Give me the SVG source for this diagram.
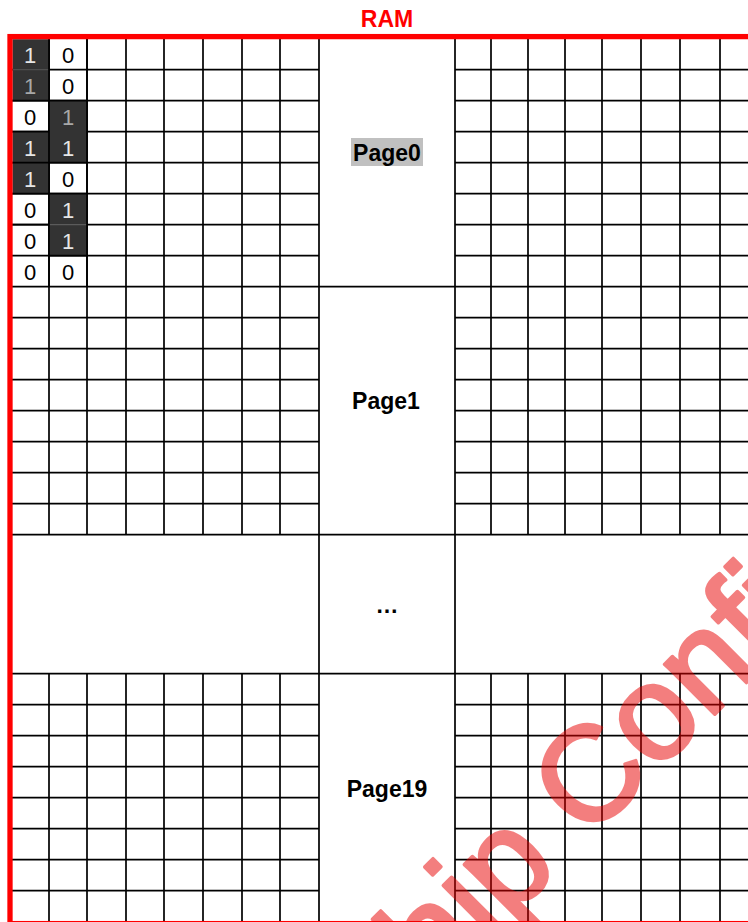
<svg xmlns="http://www.w3.org/2000/svg" width="748" height="922" viewBox="0 0 748 922">
  <style>
    .grid { fill: none; stroke: #000; stroke-width: 1.7; }
    .lbl { font-family: "Liberation Sans", Arial, sans-serif; font-weight: bold; font-size: 23px; fill: #000; text-anchor: middle; }
    .bit { font-family: "Liberation Sans", Arial, sans-serif; font-size: 22px; text-anchor: middle; }
    .b0 { fill: #000; }
    .b1 { fill: #e6e6e6; }
    .b1d { fill: #a8a8a8; }
    .dark { fill: #333333; }
  </style>
  <rect x="0" y="0" width="748" height="922" fill="#fff"/>

  <g id="title">
    <text x="387" y="26.5" class="lbl" style="fill:#ff0000">RAM</text>
  </g>

  <g id="connectors">
    <path class="grid" d="M319 39V922M455 39V922"/>
    <path class="grid" d="M12 286.7H748M12 534.7H748M12 673.7H748"/>
  </g>

  <g id="page0">
    <path class="grid" d="M49 39V286.7M87 39V286.7M126 39V286.7M164 39V286.7M203 39V286.7M242 39V286.7M280 39V286.7
      M491 39V286.7M528 39V286.7M565 39V286.7M602 39V286.7M641 39V286.7M680 39V286.7M720 39V286.7
      M12 69.7H319M12 100.7H319M12 131.7H319M12 162.7H319M12 193.7H319M12 224.7H319M12 255.7H319
      M455 69.7H748M455 100.7H748M455 131.7H748M455 162.7H748M455 193.7H748M455 224.7H748M455 255.7H748"/>
    <rect x="351" y="138" width="72" height="28" fill="#c0c0c0"/>
    <text x="387" y="160.5" class="lbl">Page0</text>
  </g>

  <g id="bits">
    <rect class="dark" x="12.5" y="39.2" width="36.5" height="61.5"/>
    <rect class="dark" x="12.5" y="131.7" width="36.5" height="62"/>
    <rect class="dark" x="49" y="100.7" width="38" height="62"/>
    <rect class="dark" x="49" y="193.7" width="38" height="62"/>
    <path d="M12.5 69.7H49" stroke="#555" stroke-width="1"/>
    <path d="M49 224.7H87" stroke="#666" stroke-width="1"/>
    <path class="grid" d="M49 39V286.7M87 39V286.7M12 100.7H87M12 131.7H49M12 193.7H87M49 162.7H87M49 255.7H87M12 162.7H49M12 224.7H49"/>
    <text x="30" y="62.5" class="bit b1">1</text><text x="68" y="62.5" class="bit b0">0</text>
    <text x="30" y="93.5" class="bit b1d">1</text><text x="68" y="93.5" class="bit b0">0</text>
    <text x="30" y="124.5" class="bit b0">0</text><text x="68" y="124.5" class="bit b1d">1</text>
    <text x="30" y="155.5" class="bit b1">1</text><text x="68" y="155.5" class="bit b1">1</text>
    <text x="30" y="186.5" class="bit b1">1</text><text x="68" y="186.5" class="bit b0">0</text>
    <text x="30" y="217.5" class="bit b0">0</text><text x="68" y="217.5" class="bit b1">1</text>
    <text x="30" y="248.5" class="bit b0">0</text><text x="68" y="248.5" class="bit b1">1</text>
    <text x="30" y="279.5" class="bit b0">0</text><text x="68" y="279.5" class="bit b0">0</text>
  </g>

  <g id="page1">
    <path class="grid" d="M49 286.7V534.7M87 286.7V534.7M126 286.7V534.7M164 286.7V534.7M203 286.7V534.7M242 286.7V534.7M280 286.7V534.7
      M491 286.7V534.7M528 286.7V534.7M565 286.7V534.7M602 286.7V534.7M641 286.7V534.7M680 286.7V534.7M720 286.7V534.7
      M12 317.7H319M12 348.7H319M12 379.7H319M12 410.7H319M12 441.7H319M12 472.7H319M12 503.7H319
      M455 317.7H748M455 348.7H748M455 379.7H748M455 410.7H748M455 441.7H748M455 472.7H748M455 503.7H748"/>
    <text x="386" y="408.5" class="lbl">Page1</text>
  </g>

  <g id="ellipsis">
    <text x="387" y="613" class="lbl">…</text>
  </g>

  <g id="page19">
    <path class="grid" d="M49 673.7V922M87 673.7V922M126 673.7V922M164 673.7V922M203 673.7V922M242 673.7V922M280 673.7V922
      M491 673.7V922M528 673.7V922M565 673.7V922M602 673.7V922M641 673.7V922M680 673.7V922M720 673.7V922
      M12 704.7H319M12 735.7H319M12 766.7H319M12 797.7H319M12 828.7H319M12 859.7H319M12 890.7H319
      M455 704.7H748M455 735.7H748M455 766.7H748M455 797.7H748M455 828.7H748M455 859.7H748M455 890.7H748"/>
    <text x="387" y="797" class="lbl">Page19</text>
  </g>

  <g id="border">
    <rect x="10" y="36.6" width="760" height="887" fill="none" stroke="#ff0000" stroke-width="5.3"/>
  </g>

  <g id="watermark" opacity="0.5">
    <text transform="translate(366 1063) rotate(-45)" font-family="Liberation Sans, Arial, sans-serif" font-size="134" fill="rgb(232,0,0)" stroke="rgb(232,0,0)" stroke-width="3.5" stroke-linejoin="round">Chip Confidential</text>
  </g>
</svg>
